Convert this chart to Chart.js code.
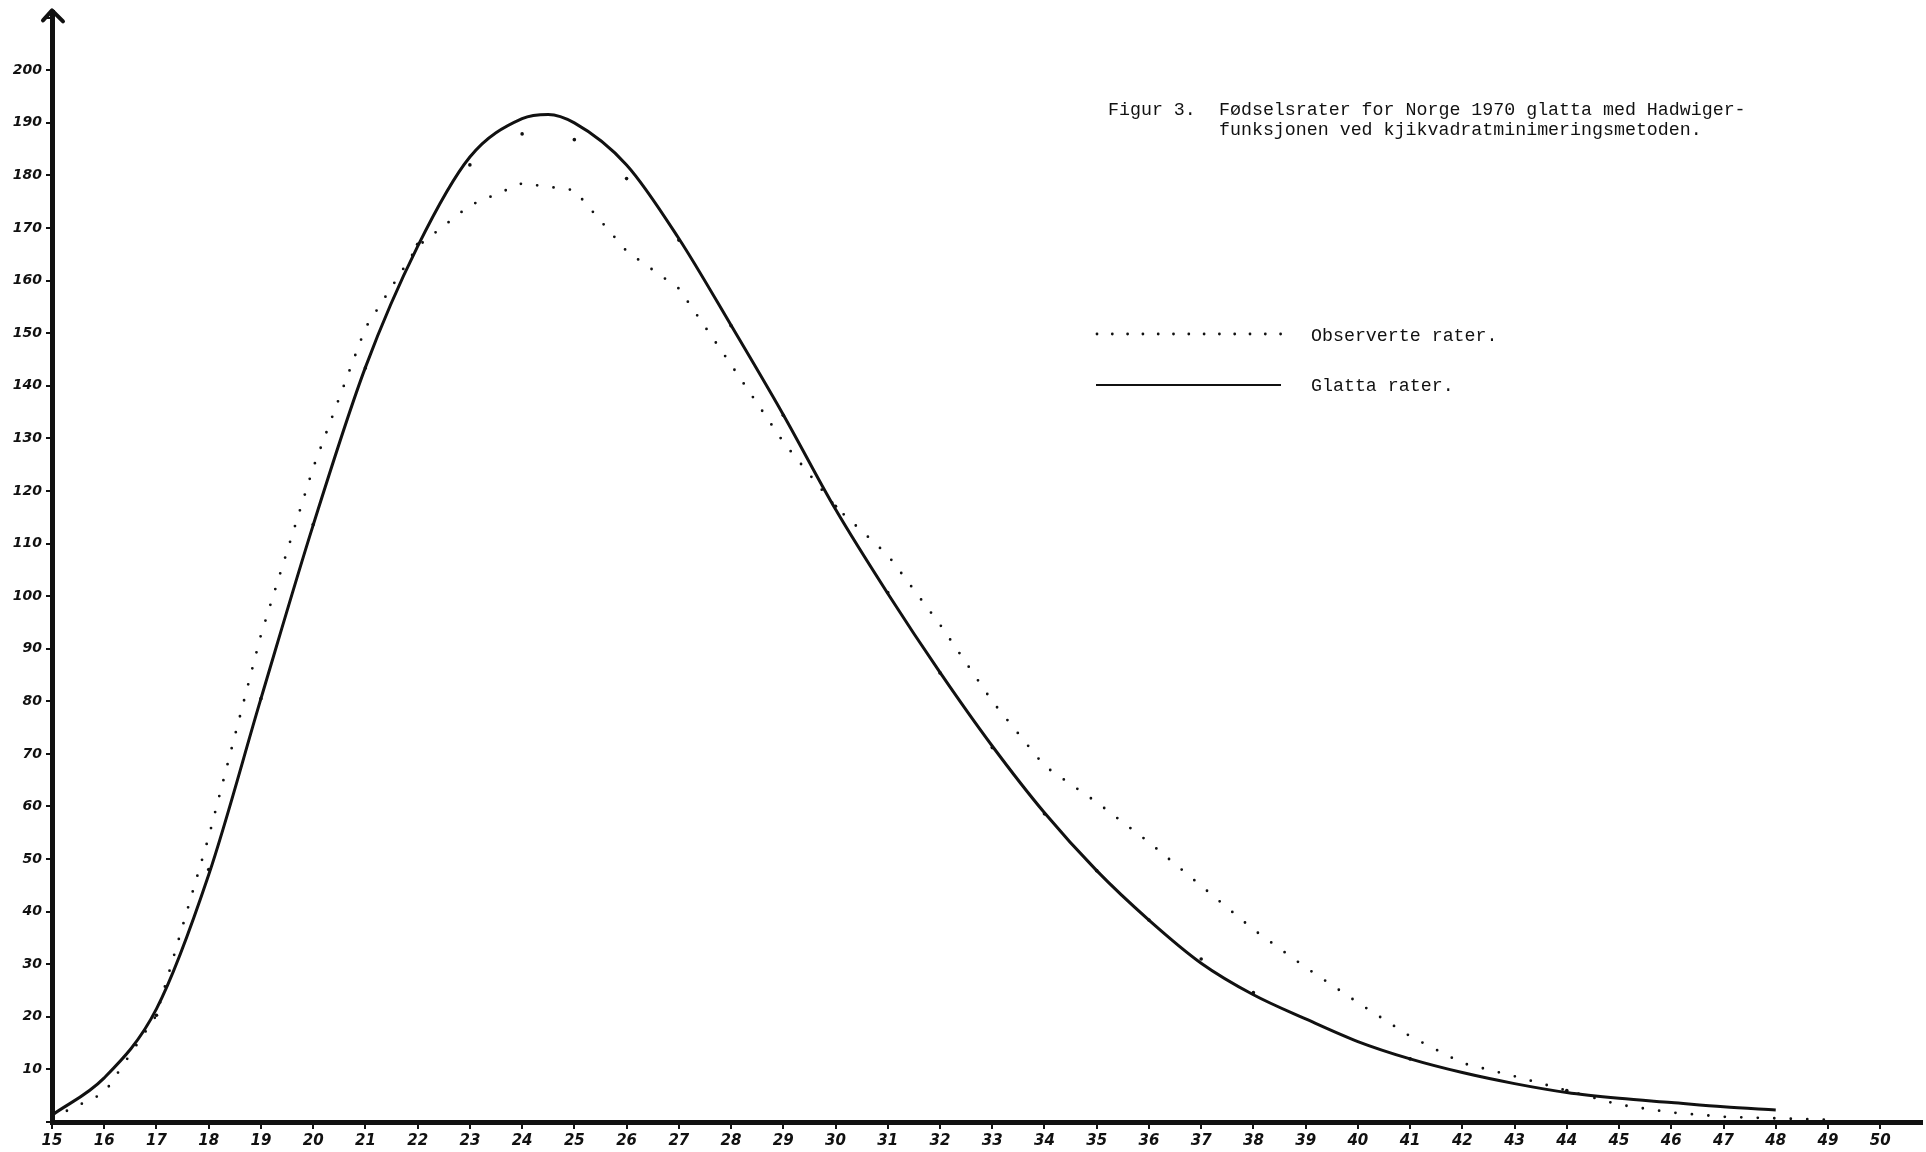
<!DOCTYPE html>
<html>
<head>
<meta charset="utf-8">
<script src="https://cdn.jsdelivr.net/npm/chart.js@4.4.1/dist/chart.umd.min.js"></script>
<style>
  html, body { margin: 0; padding: 0; background: #fff; }
  #wrap { width: 1926px; height: 1152px; position: relative; }
</style>
</head>
<body>
<div id="wrap"><canvas id="fig3"></canvas></div>
<script>
// observerte rater, alder 15-49 (punkter lest av figuren)
const observedAges = [15, 16, 17, 18, 19, 20, 21, 22, 23, 24, 25, 26, 27, 28, 29, 30, 31, 32,
  33, 34, 35, 36, 37, 38, 39, 40, 41, 42, 43, 44, 45, 46, 47, 48, 49];
const observedRates = [0.8, 5.5, 20.3, 54.2, 92.6, 124.4, 151, 166.5, 174.3, 178.5, 177.2, 165.6,
  158.5, 144, 129.3, 117, 107.8, 94.6, 80, 67.7, 60.8, 53.2, 44.9, 36.6, 29.4, 22.7, 16.3,
  11.2, 8.7, 6, 3.3, 1.8, 1.0, 0.7, 0.4];

// glatta rater (Hadwiger), alder 15-48
const smoothAges = [15, 16, 17, 18, 19, 20, 21, 22, 23, 24, 24.5, 25, 26, 27, 28, 29, 30, 31,
  32, 33, 34, 35, 36, 37, 38, 39, 40, 41, 42, 43, 44, 45, 46, 47, 48];
const smoothRates = [1.3, 8.4, 21.5, 47, 80.5, 113.5, 143.5, 166.5, 183.5, 190.8, 191.6, 190,
  182, 168, 151.5, 134.5, 116.5, 100.5, 85.5, 71.5, 58.8, 47.8, 38.4, 30.2, 24.2, 19.6, 15.3,
  12, 9.4, 7.3, 5.6, 4.5, 3.7, 2.9, 2.3];

// beregnede punkter merket langs den glatta kurven
const markAges = [17, 18, 19, 20, 21, 22, 23, 24, 25, 26, 27, 28, 29, 30, 31, 32, 33, 34, 35,
  36, 37, 38, 41, 44];
const markRates = [20.3, 48, 80.5, 113.6, 143.4, 166.9, 182, 187.9, 186.8, 179.4, 167.7, 151.4,
  134.4, 117.1, 100.7, 85.4, 71.2, 58.6, 47.8, 38.4, 31, 24.6, 12, 6];

const titleLines = ["Figur 3.", "Fødselsrater for Norge 1970 glatta med Hadwiger-",
  "funksjonen ved kjikvadratminimeringsmetoden."];
const legendLabels = ["Observerte rater.", "Glatta rater."];

const toPoints = function (xs, ys) {
  return xs.map((x, i) => ({ x: x, y: ys[i] }));
};

const ink = "#111";
const handFont = { family: "'DejaVu Sans', sans-serif", size: 14, weight: "bold", style: "italic" };

const paperPlugin = {
  id: "paper",
  afterDraw(chart) {
    const ctx = chart.ctx;
    const area = chart.chartArea;
    ctx.save();

    // pil paa y-aksen
    ctx.strokeStyle = ink;
    ctx.lineWidth = 4;
    ctx.lineCap = "round";
    ctx.lineJoin = "round";
    ctx.beginPath();
    ctx.moveTo(area.left - 9, area.top + 8);
    ctx.lineTo(area.left, area.top - 2);
    ctx.lineTo(area.left + 11, area.top + 9);
    ctx.stroke();

    // tittel
    ctx.fillStyle = ink;
    ctx.font = "18.3px 'Liberation Mono', monospace";
    ctx.textBaseline = "alphabetic";
    ctx.fillText(titleLines[0], 1108, 115);
    ctx.fillText(titleLines[1], 1219, 115);
    ctx.fillText(titleLines[2], 1219, 135);

    // forklaring
    for (let i = 0; i < 13; i++) {
      ctx.beginPath();
      ctx.arc(1097 + i * 15.3, 334, 1.4, 0, Math.PI * 2);
      ctx.fill();
    }
    ctx.lineWidth = 2;
    ctx.lineCap = "butt";
    ctx.beginPath();
    ctx.moveTo(1096, 385);
    ctx.lineTo(1281, 385);
    ctx.stroke();
    ctx.fillText(legendLabels[0], 1311, 341);
    ctx.fillText(legendLabels[1], 1311, 391);

    ctx.restore();
  },
};

const config = {
  type: "line",
  data: {
    datasets: [
      {
        label: legendLabels[0],
        data: toPoints(observedAges, observedRates),
        borderColor: ink,
        borderWidth: 2.8,
        borderDash: [0, 16.5],
        borderCapStyle: "round",
        tension: 0,
        pointRadius: 0,
      },
      {
        label: legendLabels[1],
        data: toPoints(smoothAges, smoothRates),
        borderColor: ink,
        borderWidth: 3,
        cubicInterpolationMode: "monotone",
        pointRadius: 0,
      },
      {
        label: "punkter",
        data: toPoints(markAges, markRates),
        showLine: false,
        pointRadius: 1.8,
        pointBackgroundColor: ink,
        pointBorderWidth: 0,
      },
    ],
  },
  options: {
    responsive: true,
    maintainAspectRatio: false,
    animation: false,
    layout: { padding: { top: 12, right: 0, left: 0, bottom: 0 } },
    plugins: {
      legend: { display: false },
      title: { display: false },
      tooltip: { enabled: false },
    },
    scales: {
      x: {
        type: "linear",
        min: 15,
        max: 50.8,
        afterFit: (s) => { s.height = 30; },
        border: { display: true, color: ink, width: 5 },
        grid: { drawOnChartArea: false, drawTicks: true, tickLength: 7, color: ink, lineWidth: 2 },
        ticks: {
          stepSize: 1,
          includeBounds: false,
          autoSkip: false,
          maxRotation: 0,
          padding: 3,
          color: ink,
          font: { ...handFont, size: 15 },
        },
      },
      y: {
        type: "linear",
        min: 0,
        max: 211,
        afterFit: (s) => { s.width = 52; },
        border: { display: true, color: ink, width: 5 },
        grid: { drawOnChartArea: false, drawTicks: true, tickLength: 6, color: ink, lineWidth: 2 },
        ticks: {
          stepSize: 10,
          includeBounds: false,
          autoSkip: false,
          padding: 4,
          color: ink,
          font: handFont,
          callback: (v) => (v === 0 || v > 200 ? "" : v),
        },
      },
    },
  },
  plugins: [paperPlugin],
};

new Chart(document.getElementById("fig3"), config);
</script>
</body>
</html>
